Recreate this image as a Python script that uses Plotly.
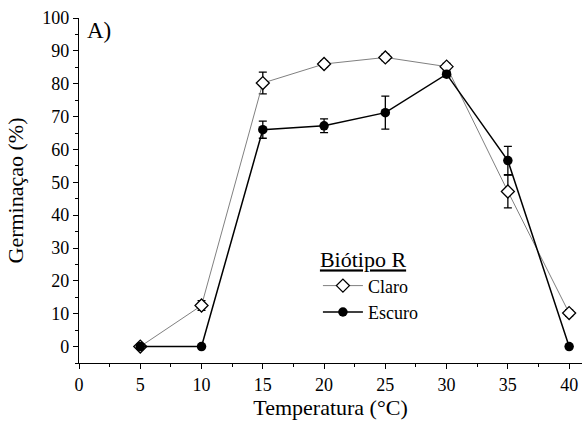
import plotly.graph_objects as go

temperatura = [5, 10, 15, 20, 25, 30, 35, 40]
claro = [0, 12.5, 80.2, 86.0, 88.0, 85.2, 47.2, 10.2]
claro_err = [0, 1.5, 3.3, 1.0, 1.0, 1.0, 5.0, 1.0]
escuro = [0, 0, 66.0, 67.2, 71.2, 82.9, 56.6, 0]
escuro_err = [0, 0, 2.6, 2.1, 5.0, 0.8, 4.3, 0]
x_ticks = [0, 5, 10, 15, 20, 25, 30, 35, 40]
y_ticks = [0, 10, 20, 30, 40, 50, 60, 70, 80, 90, 100]

FONT = "Liberation Serif"

fig = go.Figure()
fig.add_trace(go.Scatter(
    x=temperatura, y=claro, name="Claro", mode="lines+markers",
    line=dict(color="#808080", width=1),
    marker=dict(symbol="diamond", size=10, color="white",
                line=dict(color="black", width=1.3)),
    error_y=dict(type="data", array=claro_err, color="black", thickness=1.3, width=4),
    cliponaxis=False,
))
fig.add_trace(go.Scatter(
    x=temperatura, y=escuro, name="Escuro", mode="lines+markers",
    line=dict(color="black", width=1.5),
    marker=dict(symbol="circle", size=9.5, color="black"),
    error_y=dict(type="data", array=escuro_err, color="black", thickness=1.3, width=4),
    cliponaxis=False,
))

axis_common = dict(
    showline=True, linecolor="black", linewidth=1.3,
    showgrid=False, zeroline=False, automargin=False,
    ticks="outside", ticklen=5, tickwidth=1.3, tickcolor="black",
    tickfont=dict(family=FONT, size=18, color="black"),
)

fig.update_layout(
    width=582, height=427,
    margin=dict(l=79, r=0, t=18, b=64),
    paper_bgcolor="white", plot_bgcolor="white",
    font=dict(family=FONT, size=18, color="black"),
    showlegend=True,
    legend=dict(
        x=0.475, y=0.36, xanchor="left", yanchor="top",
        bgcolor="rgba(0,0,0,0)",
        title=dict(text="<u>Biótipo R</u>", font=dict(family=FONT, size=22, color="black"), side="top"),
        font=dict(family=FONT, size=18, color="black"),
        itemwidth=40,
    ),
    xaxis=dict(
        axis_common,
        range=[0, 41.05],
        tickmode="array", tickvals=x_ticks,
        minor=dict(dtick=2.5, tick0=0, ticks="outside", ticklen=3, tickwidth=1.2, tickcolor="black"),
        title=dict(text="Temperatura (°C)", font=dict(family=FONT, size=22, color="black"), standoff=3),
    ),
    yaxis=dict(
        axis_common,
        range=[-5, 100],
        tickmode="array", tickvals=y_ticks,
        minor=dict(dtick=5, tick0=0, ticks="outside", ticklen=3, tickwidth=1.2, tickcolor="black"),
        title=dict(text="Germinaçao (%)", font=dict(family=FONT, size=22, color="black"), standoff=12),
    ),
    annotations=[dict(
        text="A)", x=0.012, y=0.965, xref="paper", yref="paper", showarrow=False,
        font=dict(family=FONT, size=23, color="black"), xanchor="left", yanchor="middle",
    )],
)

# remove the browser's default page margin so the figure fills the window exactly
fig.write_html(
    "out.html",
    config={"displayModeBar": False},
    post_script="document.body.style.margin='0';document.body.style.overflow='hidden';",
)
